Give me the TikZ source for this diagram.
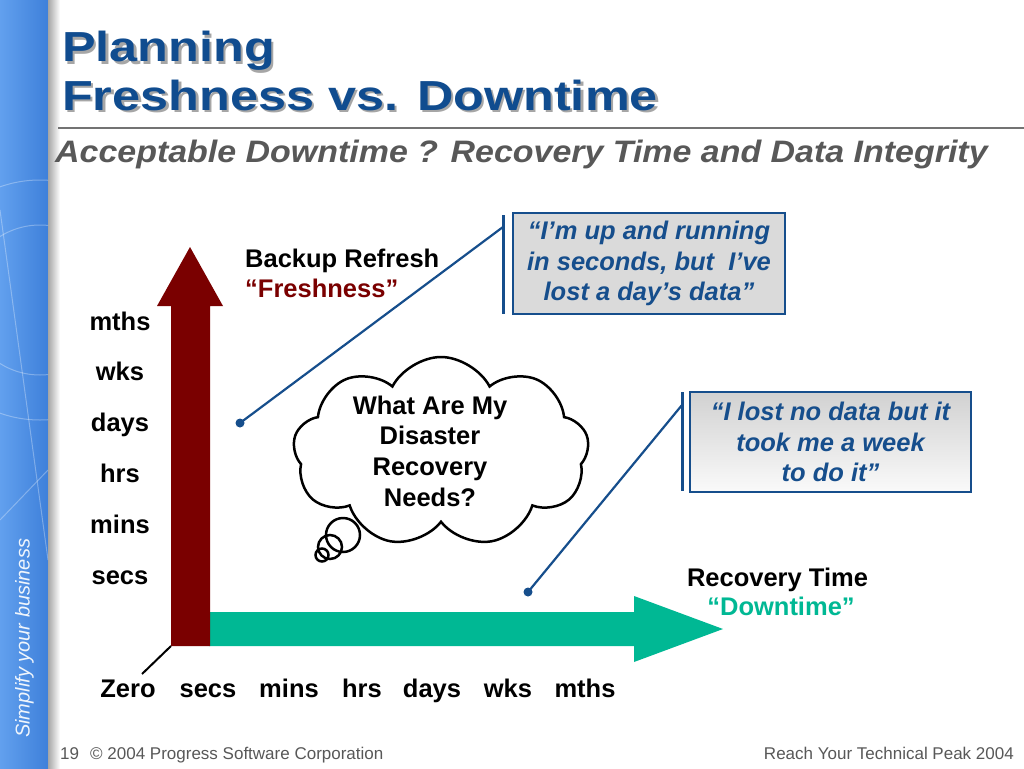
\documentclass[tikz,border=0pt]{standalone}
\usepackage{fontspec}
\usepackage{graphicx}
\setmainfont{Liberation Sans}
\usetikzlibrary{shapes.symbols}
\definecolor{titleblue}{RGB}{16,76,143}
\definecolor{subgray}{RGB}{88,88,88}
\definecolor{quoteblue}{RGB}{22,78,140}
\definecolor{boxgray}{RGB}{218,218,218}
\definecolor{fresh}{RGB}{122,0,0}
\definecolor{down}{RGB}{0,184,148}
\definecolor{sideblue}{RGB}{62,128,218}
\definecolor{sidelight}{RGB}{98,160,238}
\newcommand{\sizepx}[1]{\fontsize{#1}{1.2\dimexpr #1pt\relax}\selectfont}
\begin{document}
\begin{tikzpicture}[x=1pt, y=-1pt,
        quote/.style={draw=quoteblue, line width=2.5, align=center, inner sep=0,
            text=quoteblue, font=\sizepx{25.5}\bfseries\itshape},
        lbl/.style={anchor=base, inner sep=0, font=\sizepx{25.5}\bfseries},
        lead/.style={quoteblue, line width=2.2},
        foot/.style={anchor=base west, inner sep=0, text=subgray, font=\sizepx{17}}]
            \useasboundingbox (0, 0) rectangle (1024, 768);
            \fill [white] (0, 0) rectangle (1024, 768);
            \shade [left color=sidelight, right color=sideblue] (0, 0) rectangle (48, 768);
            \shade [left color=black!35, right color=white] (48, 0) rectangle (60, 768);
            \begin{scope}
                \clip (0, 0) rectangle (48, 768);
                \draw [white, opacity=0.3, line width=1] (40, 300) circle (75);
                \draw [white, opacity=0.3, line width=1] (40, 300) circle (120);
                \draw [white, opacity=0.3, line width=1] (0, 210) -- (48, 560);
                \draw [white, opacity=0.3, line width=1] (0, 520) -- (48, 470);
            \end{scope}
            \node [anchor=base west, inner sep=0, rotate=90, text=white!92!sideblue,
                font=\sizepx{20}\itshape] (slogan) at (29.5, 738) {Simplify your business};
            \node [anchor=base west, inner sep=0, text=black!35, font=\sizepx{42}\bfseries]
                (titleshadow) at (64.5, 64.5) {\scalebox{1.2}[1]{Planning}};
            \node [anchor=base west, inner sep=0, text=black!35, font=\sizepx{42}\bfseries]
                (titleshadowb) at (64.5, 112.5) {\scalebox{1.2}[1]{Freshness vs. Downtime}};
            \node [anchor=base west, inner sep=0, text=titleblue, font=\sizepx{42}\bfseries]
                (title) at (62, 62) {\scalebox{1.2}[1]{Planning}};
            \node [anchor=base west, inner sep=0, text=titleblue, font=\sizepx{42}\bfseries]
                (titleb) at (62, 110) {\scalebox{1.2}[1]{Freshness vs. Downtime}};
            \draw [black!55, line width=2] (58, 128) -- (1024, 128);
            \node [anchor=base west, inner sep=0, text=subgray, font=\sizepx{31}\bfseries\itshape]
                (subtitle) at (55, 162)
                {\scalebox{1.095}[1]{Acceptable Downtime ? Recovery Time and Data Integrity}};
            \fill [down] (209, 612) -- (634, 612) -- (634, 596) -- (723, 629) -- (634, 662)
                -- (634, 646) -- (209, 646) -- cycle;
            \fill [fresh] (171, 646) -- (171, 306) -- (157, 306) -- (190, 247) -- (223, 306)
                -- (210, 306) -- (210, 646) -- cycle;
            \coordinate (origin) at (171, 646);
            \coordinate (zerotick) at (142, 674);
            \draw [line width=2] (origin) -- (zerotick);
            \foreach \lab [count=\i] in {secs, mins, hrs, days, wks, mths}
                \node [lbl] (y\i) at (120, 584 - 50.8*\i + 50.8) {\lab};
            \foreach \lab/\x [count=\i] in {Zero/128, secs/208, mins/289, hrs/362,
                    days/432, wks/508, mths/585}
                \node [lbl] (x\i) at (\x, 697) {\lab};
            \node [anchor=base west, inner sep=0, font=\sizepx{25.5}\bfseries] (yname) at (245, 267)
                {Backup Refresh};
            \node [anchor=base west, inner sep=0, text=fresh, font=\sizepx{25.5}\bfseries]
                (ynameb) at (245, 297) {“Freshness”};
            \node [lbl] (xname) at (777.5, 586) {Recovery Time};
            \node [lbl, text=down] (xnameb) at (781, 615) {“Downtime”};
            \node [cloud, draw, fill=white, line width=2.5, cloud puffs=9, cloud puff arc=125,
                aspect=1.55, minimum width=296, minimum height=190, inner sep=0] (cloud)
                at (441, 452) {};
            \draw [line width=2.5] (343, 535) circle (17);
            \draw [line width=2.5] (330, 547) circle (12);
            \draw [line width=2.5] (322, 555) circle (6.5);
            \node [align=center, inner sep=0, font=\sizepx{25.5}\bfseries] (needs) at (430, 451)
                {What Are My\\ Disaster\\ Recovery\\ Needs?};
            \node [quote, fill=boxgray, minimum width=272, minimum height=101] (quoteA)
                at (649, 263.5) {“I’m up and running\\ in seconds, but~ I’ve\\ lost a day’s data”};
            \node [quote, top color=black!18, bottom color=black!2, minimum width=281,
                minimum height=100] (quoteB) at (830.5, 442)
                {“I lost no data but it\\ took me a week\\ to do it”};
            \coordinate (barAtop) at (503, 215);
            \coordinate (barAbot) at (503, 314);
            \coordinate (barBtop) at (682, 392);
            \coordinate (barBbot) at (682, 491);
            \coordinate (dotA) at (240, 423);
            \coordinate (dotB) at (528, 592);
            \draw [lead, line width=3] (barAtop) -- (barAbot);
            \draw [lead, line width=3] (barBtop) -- (barBbot);
            \draw [lead] (dotA) -- (503, 227);
            \draw [lead] (dotB) -- (682, 405);
            \fill [quoteblue] (dotA) circle (4.5);
            \fill [quoteblue] (dotB) circle (4.5);
            \node [foot] (pagenum) at (60, 759) {19};
            \node [foot] (copyright) at (90, 759) {© 2004 Progress Software Corporation};
            \node [foot, anchor=base east] (event) at (1014, 759) {Reach Your Technical Peak 2004};
        \end{tikzpicture}
\end{document}
